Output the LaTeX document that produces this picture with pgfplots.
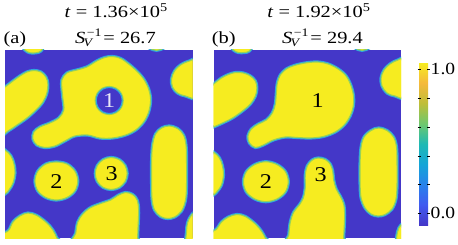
\documentclass[border=0pt]{standalone}
\usepackage{fontspec}
\setmainfont{Liberation Serif}
\usepackage{graphicx}
\usepackage{pgfplots}
\pgfplotsset{compat=1.18}
\definecolor{bg}{RGB}{68,55,200}
\definecolor{yel}{RGB}{246,236,32}
\definecolor{hcyan}{RGB}{45,165,225}
\definecolor{hgreen}{RGB}{150,210,90}
\pgfplotsset{
 blob/.style={smooth cycle, tension=0.55, fill=yel, draw=hgreen, line width=1.1pt, preaction={draw=hcyan, line width=3.2pt}, mark=none},
 hole/.style={smooth cycle, tension=0.55, fill=bg, draw=hcyan, line width=1.1pt, preaction={draw=hgreen, line width=3.2pt}, mark=none},
 panel/.style={scale only axis, width=187.5pt, height=188pt, xmin=0, xmax=188, ymin=0, ymax=188, y dir=reverse, xtick=\empty, ytick=\empty, axis line style={draw=none}, axis background/.style={fill=bg}, clip=true},
}
\newcommand{\tf}{\fontsize{17}{19}\selectfont}
\newcommand{\supf}{\fontsize{11.5}{12}\selectfont}
\newcommand{\nf}{\fontsize{21}{22}\selectfont}
\newcommand{\Sv}{\textit{S}\rlap{\hspace{1.2pt}\raisebox{6.5pt}{\supf −1}}\hspace{-1.5pt}\raisebox{-3.5pt}{\supf\itshape V}\hspace{9.5pt}}
\begin{document}
\begin{tikzpicture}
\path[use as bounding box] (0,0) rectangle (458pt,-245pt);
% ---------------- panel (a)
\begin{axis}[panel, at={(98.75pt,-144pt)}, anchor=center]
\addplot[blob] coordinates {(17,-6) (20,0) (25,2.8) (31,2.8) (36,1) (39,-6) (28,-10)};
\addplot[blob] coordinates {(140,-6) (148,-0.5) (152,0.3) (156,-0.5) (164,-6)};
\addplot[blob] coordinates {(-8,42) (0,37) (8,31) (15,26) (22,22) (29,20.5) (36,22) (41,27) (43,34) (42,43) (38,52) (31,60) (22,68) (12,75) (3,81) (-8,86)};
\addplot[blob] coordinates {(195,10) (185,11) (176,15) (170,21) (167,29) (168,37) (173,43) (181,46) (195,47)};
\addplot[blob] coordinates {(-8,98) (0,100) (6,106) (9,114) (10,123) (8,133) (4,140) (0,144) (-8,146)};
\addplot[blob] coordinates {(57,30) (62,23) (72,20) (82,17) (92,11) (100,7.5) (108,6.5) (116,8.5) (124,14) (132,21) (139,29) (144,39) (146,50) (144,62) (139,72) (131,80) (121,85) (108,88) (95,88) (83,85) (70,86) (60,91) (50,96) (40,97.5) (32,95) (28,89) (29,82) (35,77) (45,73) (54,68) (59,60) (58,48) (57,38)};
\addplot[hole] coordinates {(117.5,50.5) (115.8,57) (111,61.8) (104.5,63.5) (98,61.8) (93.2,57) (91.5,50.5) (93.2,44) (98,39.2) (104.5,37.5) (111,39.2) (115.8,44)};
\addplot[blob] coordinates {(164.5,76) (173,78.5) (179,85) (181.5,95) (182,110) (182,135) (181,150) (177,161) (170,167) (163,168.5) (156,166.5) (150,160) (147.5,150) (147,135) (147,110) (148,95) (151,84) (157,78)};
\addplot[blob] coordinates {(73,131) (70,141) (62,147.5) (51.5,150) (41,147.5) (33,141) (30,131) (33,121) (41,114) (51.5,112) (62,114) (70,121)};
\addplot[blob] coordinates {(122.5,123.5) (120.4,131.5) (114.5,137.4) (106.5,139.5) (98.5,137.4) (92.6,131.5) (90.5,123.5) (92.6,115.5) (98.5,109.6) (106.5,107.5) (114.5,109.6) (120.4,115.5)};
\addplot[blob] coordinates {(70.5,195) (71,183) (73,172) (78,164) (86,157.5) (96,153.5) (106,150) (114,145) (121,142.5) (128,144.5) (132.5,150) (134,160) (133.5,175) (133,188) (133,195)};
\addplot[blob] coordinates {(-8,195) (-8,186) (3,181) (8,172) (15,166) (23,163) (32,165.5) (42,173) (48,180) (52,188) (55,195)};
\addplot[blob] coordinates {(195,160) (187,165) (183,173) (182,182) (182,195) (195,195)};
\node[text=white!88!bg] at (axis cs:104.5,50.5) {\scalebox{1.15}[1]{\nf 1}};
\node at (axis cs:51.5,131.5) {\scalebox{1.15}[1]{\nf 2}};
\node at (axis cs:107,123.5) {\scalebox{1.15}[1]{\nf 3}};
\end{axis}
% ---------------- panel (b)
\begin{axis}[panel, at={(307.25pt,-144pt)}, anchor=center,
 colorbar,
 colormap={parulaish}{rgb255=(68,55,200) rgb255=(65,90,240) rgb255=(40,130,235) rgb255=(20,165,215) rgb255=(30,185,180) rgb255=(110,200,110) rgb255=(190,190,55) rgb255=(245,185,60) rgb255=(246,236,32)},
 point meta min=-0.081, point meta max=1.044,
 colorbar style={at={(parent axis.east)}, anchor=west, xshift=9.5pt, scale only axis, width=9pt, height=162.3pt, y dir=normal, axis line style={draw=none}, axis background/.style={}, ytick={0,0.2,0.4,0.6,0.8,1}, yticklabels={\scalebox{1.15}[1]{\tf 0.0},,,,,\scalebox{1.15}[1]{\tf 1.0}}, ytick style={black, line width=0.5pt}, major tick length=3pt, tick align=center, yticklabel style={inner sep=1pt}}]
\addplot[blob] coordinates {(17,-6) (20,0) (25,2.5) (31,2.5) (36,1) (39,-6) (28,-10)};
\addplot[blob] coordinates {(138,-6) (145,-0.5) (149,0.3) (153,-0.5) (160,-6)};
\addplot[blob] coordinates {(-8,38) (0,34) (8,28) (15,24.5) (22,22.5) (30,23) (37,26) (42,31) (43.5,38) (42,46) (37,54) (29,61) (19,68) (9,73) (0,77) (-8,80)};
\addplot[blob] coordinates {(195,9) (185,10) (177,14) (171,20) (168,28) (169,36) (174,43) (182,46) (195,47)};
\addplot[blob] coordinates {(-8,100) (0,102) (6,108) (9,116) (10,125) (8,135) (4,141) (0,145) (-8,147)};
\addplot[blob] coordinates {(64,33) (67,25) (73,19) (81,15.5) (92,13) (104,12) (115,14) (125,19) (133,26) (138,36) (140.5,47) (140,57) (137,66) (131,75) (122,82) (110,86.5) (97,88) (84,87.5) (72,87) (60,90) (50,95) (42,97.5) (36,93) (34.5,86) (38,79) (45,74) (53,70) (59,63) (62,54) (63,43)};
\addplot[blob] coordinates {(165.5,78) (174,80.5) (180.5,87) (183.5,97) (184,112) (184,135) (183,149) (179,159) (172,164.5) (165,166) (158,164) (152,158) (148,148) (147,135) (147,112) (148,97) (151,87) (158,80.5)};
\addplot[blob] coordinates {(75,131.7) (72,142) (63.5,149) (52.5,151.7) (41.5,149) (33,142) (30,131.7) (33,121.5) (41.5,114.5) (52.5,111.7) (63.5,114.5) (72,121.5)};
\addplot[blob] coordinates {(75,195) (75.5,185) (77,172) (80.5,162) (86,155) (90,148) (92,138) (92,125) (94,116) (99,110) (105,108) (112,109.5) (117,114) (119.5,121) (120.5,130) (123,139) (127,146) (130.5,154) (131.5,165) (131,178) (130.5,188) (130.5,195)};
\addplot[blob] coordinates {(-8,195) (-8,183) (2,180) (8,172) (15,167) (23.5,164.5) (32,166.5) (42,174) (48,181) (52,188) (55,195)};
\addplot[blob] coordinates {(195,172) (188,175) (184.5,182) (184,195) (195,195)};
\node at (axis cs:104.5,50.5) {\scalebox{1.15}[1]{\nf 1}};
\node at (axis cs:52.5,131.7) {\scalebox{1.15}[1]{\nf 2}};
\node at (axis cs:107.5,125) {\scalebox{1.15}[1]{\nf 3}};
\end{axis}
% ---------------- titles
\node[anchor=base, inner sep=0] at (116.2pt,-17.7pt) {\scalebox{1.2}[1]{\tf\textit{t} = 1.36×10\textsuperscript{5}}};
\node[anchor=base, inner sep=0] at (115.5pt,-43.3pt) {\scalebox{1.2}[1]{\tf\Sv = 26.7}};
\node[anchor=base west, inner sep=0] at (3.3pt,-43.3pt) {\scalebox{1.2}[1]{\tf (a)}};
\node[anchor=base, inner sep=0] at (319pt,-17.7pt) {\scalebox{1.2}[1]{\tf\textit{t} = 1.92×10\textsuperscript{5}}};
\node[anchor=base, inner sep=0] at (322.5pt,-43.3pt) {\scalebox{1.2}[1]{\tf\Sv = 29.4}};
\node[anchor=base west, inner sep=0] at (211.7pt,-43.3pt) {\scalebox{1.2}[1]{\tf (b)}};
\end{tikzpicture}
\end{document}
